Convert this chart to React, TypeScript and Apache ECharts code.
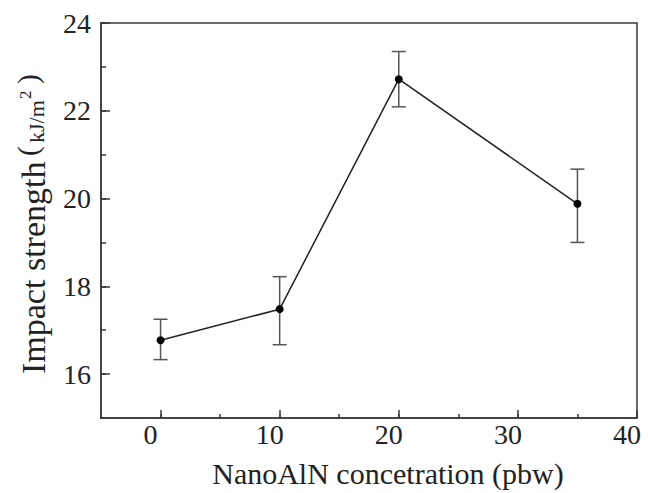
import React, { useEffect, useRef } from "react";
import * as echarts from "echarts";

const concentrations = [0, 10, 20, 35];
const impactStrength = [16.77, 17.48, 22.72, 19.88];
const errorLow = [16.33, 16.67, 22.09, 19.0];
const errorHigh = [17.25, 18.22, 23.35, 20.67];
const xTicks = [0, 10, 20, 30, 40];
const yTicks = [16, 18, 20, 22, 24];

const FONT = "Liberation Serif";
const AXIS_COLOR = "#3a3a3a";
const TEXT_COLOR = "#222";

export default function App() {
  const ref = useRef<HTMLDivElement>(null);
  useEffect(() => {
    if (!ref.current) return;
    const chart = echarts.init(ref.current, undefined, { renderer: "svg" });
    const lineData = concentrations.map((x, i) => [x, impactStrength[i]]);
    const errData = concentrations.map((x, i) => [x, errorLow[i], errorHigh[i]]);
    const axisLine = { show: true, onZero: false, lineStyle: { color: AXIS_COLOR, width: 1.5 } };
    const t = (text: string, x: number, y: number, size: number) => ({
      type: "text",
      x,
      y,
      style: {
        text,
        font: `${size}px "${FONT}"`,
        fill: TEXT_COLOR,
        align: "left",
        verticalAlign: "middle",
      },
    });
    chart.setOption({
      animation: false,
      backgroundColor: "#fff",
      grid: {
        left: 101,
        top: 23,
        right: 11,
        bottom: 75,
        show: true,
        borderColor: AXIS_COLOR,
        borderWidth: 1.5,
        backgroundColor: "transparent",
        containLabel: false,
        outerBoundsMode: "none",
      },
      graphic: [
        {
          type: "group",
          x: 0,
          y: 374,
          rotation: Math.PI / 2,
          children: [
            t("Impact strength", 0, 33, 34),
            t("(", 218, 28, 29),
            t("kJ/m", 231, 36, 22),
            t("2", 275, 25, 17),
            t(")", 290, 28, 29),
          ],
        },
      ],
      xAxis: [
        {
          type: "value",
          min: -5,
          max: 40,
          interval: 5,
          position: "bottom",
          name: "NanoAlN concetration (pbw)",
          nameLocation: "middle",
          nameGap: 40,
          nameTextStyle: {
            fontFamily: FONT,
            fontSize: 30,
            color: TEXT_COLOR,
            padding: [0, 0, 0, 38],
          },
          axisLine,
          axisTick: {
            show: true,
            inside: true,
            length: 8,
            customValues: xTicks,
            lineStyle: { color: AXIS_COLOR, width: 1.5 },
          },
          axisLabel: {
            fontFamily: FONT,
            fontSize: 28,
            color: TEXT_COLOR,
            margin: 2,
            padding: [0, 20, 0, 0],
            customValues: xTicks,
          },
          splitLine: { show: false },
        },
        {
          type: "value",
          min: -5,
          max: 40,
          interval: 5,
          position: "bottom",
          axisLine: { show: false, onZero: false },
          axisTick: {
            show: true,
            inside: true,
            length: 4,
            lineStyle: { color: AXIS_COLOR, width: 1.5 },
          },
          axisLabel: { show: false },
          splitLine: { show: false },
        },
      ],
      yAxis: [
        {
          type: "value",
          min: 15,
          max: 24,
          interval: 1,
          position: "left",
          axisLine,
          axisTick: {
            show: true,
            inside: true,
            length: 9,
            customValues: yTicks,
            lineStyle: { color: AXIS_COLOR, width: 1.5 },
          },
          axisLabel: {
            fontFamily: FONT,
            fontSize: 28,
            color: TEXT_COLOR,
            margin: 10,
            customValues: yTicks,
          },
          splitLine: { show: false },
        },
        {
          type: "value",
          min: 15,
          max: 24,
          interval: 1,
          position: "left",
          axisLine: { show: false, onZero: false },
          axisTick: {
            show: true,
            inside: true,
            length: 5,
            lineStyle: { color: AXIS_COLOR, width: 1.5 },
          },
          axisLabel: { show: false },
          splitLine: { show: false },
        },
      ],
      series: [
        {
          type: "custom",
          data: errData,
          z: 1,
          renderItem: (params: any, api: any) => {
            const x = api.value(0);
            const lo = api.coord([x, api.value(1)]);
            const hi = api.coord([x, api.value(2)]);
            const hw = 7;
            const style = { stroke: "#555", lineWidth: 1.5 };
            return {
              type: "group",
              children: [
                { type: "line", shape: { x1: lo[0], y1: lo[1], x2: hi[0], y2: hi[1] }, style },
                { type: "line", shape: { x1: hi[0] - hw, y1: hi[1], x2: hi[0] + hw, y2: hi[1] }, style },
                { type: "line", shape: { x1: lo[0] - hw, y1: lo[1], x2: lo[0] + hw, y2: lo[1] }, style },
              ],
            };
          },
        },
        {
          type: "line",
          data: lineData,
          z: 3,
          symbol: "circle",
          symbolSize: 8,
          itemStyle: { color: "#000" },
          lineStyle: { color: "#222", width: 1.5 },
        },
      ],
    });
    return () => chart.dispose();
  }, []);
  return (
    <div
      ref={ref}
      style={{ position: "absolute", left: 0, top: 0, width: 648, height: 493 }}
    />
  );
}
